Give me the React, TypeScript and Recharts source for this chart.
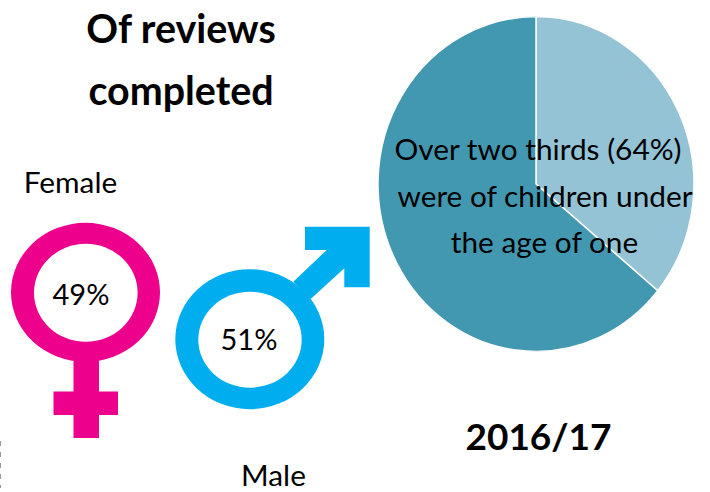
import { PieChart, Pie, Cell } from 'recharts';

const genderLabels = ['Female', 'Male'];
const genderShares = [49, 51];
const ageGroups = ['Aged one or over', 'Under the age of one'];
const ageShares = [36, 64];
const ageColors = ['#93c3d5', '#4398b1'];
const titleLines = ['Of reviews', 'completed'];
const noteLines = ['Over two thirds (64%)', 'were of children under', 'the age of one'];
const yearLabel = '2016/17';

const PINK = '#ec008c';
const BLUE = '#00aeef';
const FONT = 'Lato, "Open Sans", sans-serif';

const pieData = ageGroups.map((name, i) => ({ name, value: ageShares[i] }));

// Female and male symbols, drawn behind the percentage labels
function GenderIcons() {
  return (
    <g>
      <rect x={73.5} y={350} width={25.5} height={88} fill={PINK} />
      <rect x={53.5} y={391.5} width={64.5} height={23.5} fill={PINK} />
      <ellipse cx={85.5} cy={292.3} rx={74.5} ry={69.5} fill={PINK} />
      <ellipse cx={85.8} cy={292.8} rx={51.8} ry={49} fill="#fff" />

      <polygon
        points="305,226.7 369.7,226.7 369.7,287.3 344.3,287.3 344.3,268.3 310.7,299 293.3,281.7 326.7,250 305,250"
        fill={BLUE}
      />
      <ellipse cx={249.8} cy={339.2} rx={74.5} ry={70} fill={BLUE} />
      <ellipse cx={250} cy={339.7} rx={51.7} ry={48} fill="#fff" />
    </g>
  );
}

export default function App() {
  return (
    <div style={{ position: 'absolute', left: 0, top: 0, width: 710, height: 492, background: '#fff', overflow: 'hidden' }}>
      {/* the pie is slightly taller than wide, hence the vertical stretch */}
      <div style={{ position: 'absolute', left: 378, top: 26, width: 316, height: 316, transform: 'scaleY(1.06)' }}>
        <PieChart width={316} height={316} margin={{ top: 0, right: 0, bottom: 0, left: 0 }}>
          <Pie
            data={pieData}
            dataKey="value"
            nameKey="name"
            cx="50%"
            cy="50%"
            outerRadius={158}
            startAngle={90}
            endAngle={-270}
            stroke="#fff"
            strokeWidth={1.5}
            isAnimationActive={false}
          >
            {pieData.map((entry, index) => (
              <Cell key={entry.name} fill={ageColors[index]} />
            ))}
          </Pie>
        </PieChart>
      </div>

      <svg width={710} height={492} style={{ position: 'absolute', left: 0, top: 0 }} fontFamily={FONT}>
        <GenderIcons />

        <g fontSize={39.4} fontWeight={700} fill="#000" textAnchor="middle">
          <text x={181} y={43}>{titleLines[0]}</text>
          <text x={181} y={105}>{titleLines[1]}</text>
        </g>

        <g fontSize={29.8} fill="#000" textAnchor="middle">
          <text x={70.5} y={193}>{genderLabels[0]}</text>
          <text x={273.5} y={486}>{genderLabels[1]}</text>
          <text x={81} y={305} fontSize={29}>{genderShares[0]}%</text>
          <text x={249} y={350} fontSize={29}>{genderShares[1]}%</text>
          <text x={538} y={160}>{noteLines[0]}</text>
          <text x={545} y={207}>{noteLines[1]}</text>
          <text x={544.5} y={253}>{noteLines[2]}</text>
        </g>

        <text x={538.5} y={450} textAnchor="middle" fontSize={37} fontWeight={700} fill="#000">{yearLabel}</text>

        <line x1={0.5} y1={441} x2={0.5} y2={488} stroke="#999" strokeDasharray="5 6" />
      </svg>
    </div>
  );
}
